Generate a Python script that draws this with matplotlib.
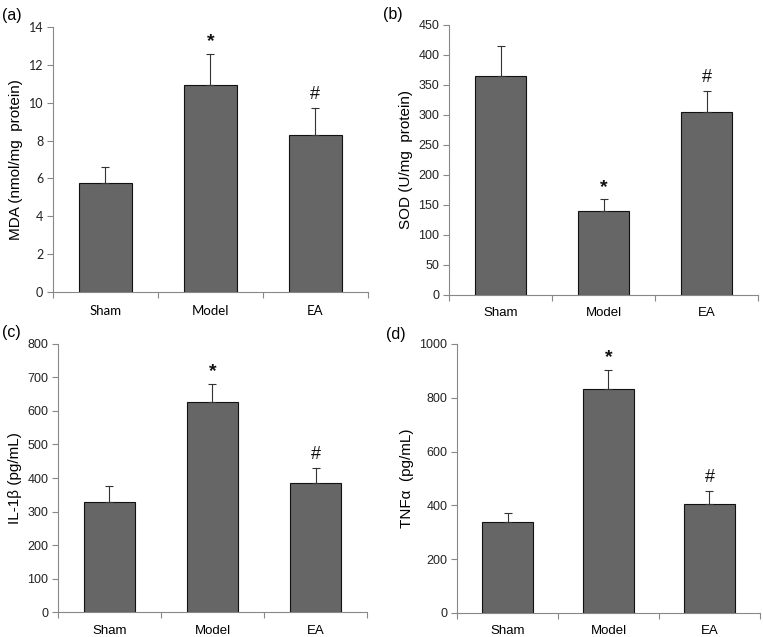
import matplotlib
matplotlib.use("Agg")
import matplotlib.pyplot as plt

plt.rcParams['font.family'] = ['Liberation Sans', 'DejaVu Sans']

categories = ["Sham", "Model", "EA"]

mda_vals = [5.75, 10.95, 8.3]
mda_err = [0.85, 1.65, 1.4]
sod_vals = [365, 140, 305]
sod_err = [50, 20, 35]
il1b_vals = [327, 628, 385]
il1b_err = [50, 54, 45]
tnfa_vals = [337, 833, 407]
tnfa_err = [36, 72, 45]

marks = ["", "*", "#"]

panels = [
    dict(label="(a)", vals=mda_vals, err=mda_err, ylabel="MDA (nmol/mg  protein)",
         ylim=(0, 14), yticks=list(range(0, 15, 2)), pos=[0.0695, 0.5416, 0.4125, 0.416],
         tickfont=["Lato", "DejaVu Sans"], lab_xy=(0.003, 0.976)),
    dict(label="(b)", vals=sod_vals, err=sod_err, ylabel="SOD (U/mg  protein)",
         ylim=(0, 450), yticks=list(range(0, 451, 50)), pos=[0.5885, 0.5369, 0.405, 0.4239],
         tickfont=["Liberation Sans", "DejaVu Sans"], lab_xy=(0.502, 0.978)),
    dict(label="(c)", vals=il1b_vals, err=il1b_err, ylabel="IL-1β (pg/mL)",
         ylim=(0, 800), yticks=list(range(0, 801, 100)), pos=[0.076, 0.0392, 0.405, 0.4208],
         tickfont=["Liberation Sans", "DejaVu Sans"], lab_xy=(0.003, 0.478)),
    dict(label="(d)", vals=tnfa_vals, err=tnfa_err, ylabel="TNFα  (pg/mL)",
         ylim=(0, 1000), yticks=list(range(0, 1001, 200)), pos=[0.599, 0.0377, 0.397, 0.4223],
         tickfont=["Liberation Sans", "DejaVu Sans"], lab_xy=(0.506, 0.475)),
]

fig = plt.figure(figsize=(7.63, 6.37), dpi=100)

for p in panels:
    ax = fig.add_axes(p["pos"])
    x = list(range(len(categories)))
    ax.bar(x, p["vals"], width=0.5, color="#666666", edgecolor="#111111", linewidth=0.8, zorder=2)
    ax.errorbar(x, p["vals"], yerr=[[0]*3, p["err"]], fmt="none", ecolor="#333333",
                elinewidth=0.8, capsize=3, capthick=0.8, zorder=3)
    span = p["ylim"][1]
    for xi, v, e, m in zip(x, p["vals"], p["err"], marks):
        if m == "*":
            ax.text(xi, v + e + span * 0.012, m, ha="center", va="bottom",
                    fontsize=14, fontweight="bold", color="#111111")
        elif m == "#":
            ax.text(xi, v + e + span * 0.02, m, ha="center", va="bottom",
                    fontsize=13, color="#111111")
    ax.set_xlim(-0.5, 2.5)
    ax.set_ylim(*p["ylim"])
    ax.set_yticks(p["yticks"])
    ax.set_xticks(x)
    ax.set_xticklabels(categories, fontsize=9.5, family=p["tickfont"])
    for t in ax.get_yticklabels():
        t.set_family(p["tickfont"])
    ax.tick_params(axis="x", length=0, pad=9)
    ax.set_xticks([-0.5, 0.5, 1.5, 2.5], minor=True)
    ax.tick_params(axis="x", which="minor", length=4, color="#888888", width=0.8)
    ax.tick_params(axis="y", length=4, color="#888888", width=0.8, labelsize=9, pad=3,
                   labelcolor="#222222")
    for s in ["top", "right"]:
        ax.spines[s].set_visible(False)
    for s in ["left", "bottom"]:
        ax.spines[s].set_color("#888888")
        ax.spines[s].set_linewidth(0.8)
    ax.set_ylabel(p["ylabel"], fontsize=11, labelpad=4)
    fig.text(p["lab_xy"][0], p["lab_xy"][1], p["label"], fontsize=11.5, ha="left", va="center")

fig.savefig("out.png", dpi=100)
